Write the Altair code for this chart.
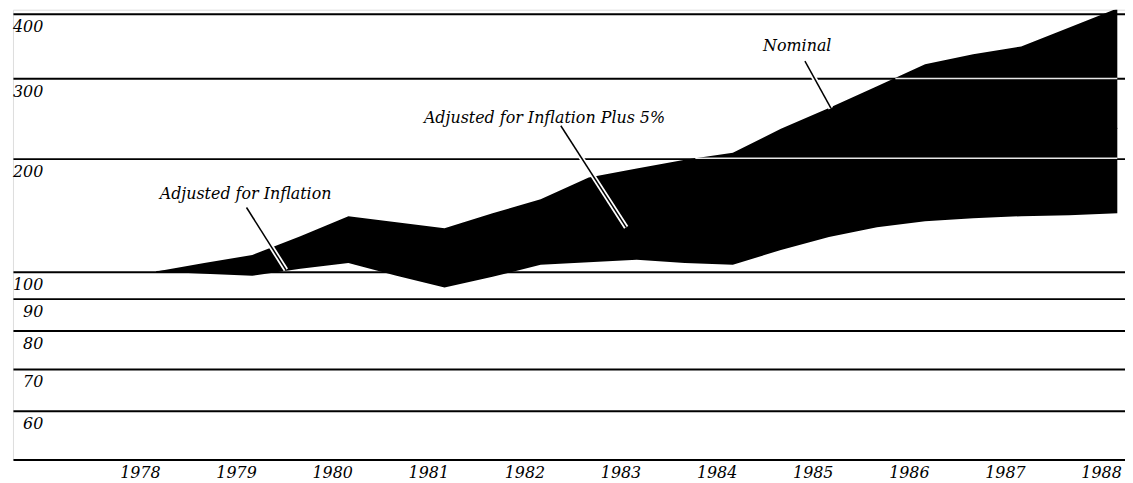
import altair as alt
import pandas as pd
import numpy as np

# ---- data (index 1978 = 100) ----
years = [1978.0, 1978.5, 1979.0, 1979.5, 1980.0, 1980.5, 1981.0, 1981.5, 1982.0, 1982.5,
         1983.0, 1983.5, 1984.0, 1984.5, 1985.0, 1985.5, 1986.0, 1986.5, 1987.0, 1987.5, 1988.0]
nominal = [100.0, 105.4, 110.7, 124.2, 140.3, 135.3, 130.4, 142.9, 155.6, 177.9,
           187.8, 198.4, 205.8, 232.3, 258.2, 288.5, 319.6, 334.1, 346.1, 376.5, 410.0]
adjusted = [100.0, 99.1, 98.4, 101.7, 105.4, 98.4, 94.0, 98.0, 104.2, 105.8,
            107.4, 105.4, 104.2, 114.1, 123.5, 131.2, 136.1, 138.6, 140.3, 141.1, 142.9]
adjusted_plus5 = [100.0, 101.6, 103.3, 109.4, 116.2, 111.2, 108.8, 116.2, 126.7, 131.8,
                  137.1, 137.8, 139.6, 156.7, 173.8, 189.2, 201.1, 209.8, 217.6, 224.3, 232.8]

grid_values = [60, 70, 80, 90, 100, 200, 300, 400]
year_ticks = [1978, 1979, 1980, 1981, 1982, 1983, 1984, 1985, 1986, 1987, 1988]

label_texts = ["Adjusted for Inflation", "Adjusted for Inflation Plus 5%", "Nominal"]
label_years = [1978.93, 1982.04, 1984.67]
label_values = [161.0, 245.0, 346.0]
leader_start_years = [1978.94, 1982.21, 1984.75]
leader_start_values = [148.0, 236.0, 324.0]
leader_end_years = [1979.35, 1982.89, 1985.02]
leader_end_values = [101.0, 131.0, 258.0]

# ---- tables ----
df = pd.DataFrame({"year": years, "nominal": nominal, "adjusted": adjusted,
                   "plus5": adjusted_plus5})

labels_df = pd.DataFrame({"text": label_texts, "year": label_years, "value": label_values})

leader_rows = []
for i in range(len(label_texts)):
    leader_rows.append({"id": i, "o": 0, "year": leader_start_years[i], "value": leader_start_values[i]})
    leader_rows.append({"id": i, "o": 1, "year": leader_end_years[i], "value": leader_end_values[i]})
leaders_df = pd.DataFrame(leader_rows)

# white gridline pieces where the gridline runs inside the black band
def last_up_crossing(level):
    ly = np.log(nominal)
    lv = np.log(level)
    cross = None
    for i in range(len(years) - 1):
        if ly[i] < lv <= ly[i + 1]:
            t = (lv - ly[i]) / (ly[i + 1] - ly[i])
            cross = years[i] + t * (years[i + 1] - years[i])
    return cross

white_rows = []
for g in [200, 300]:
    c = last_up_crossing(g)
    if c is not None:
        white_rows.append({"value": g, "start": c, "end": years[-1]})
white_df = pd.DataFrame(white_rows)

# ---- scales ----
FONT = "DejaVu Serif"
x_scale = alt.Scale(domain=[1976.51, 1988.08], nice=False, zero=False)
y_scale = alt.Scale(type="log",
                    domain=[50.3, 60, 70, 80, 90, 100, 200, 300, 400, 407.7],
                    range=[452.7, 404.3, 362, 323, 291.3, 263.7, 149.7, 69.3, 4.3, 0],
                    nice=False, zero=False)

x_axis = alt.Axis(values=year_ticks, format="d", grid=False, ticks=False, domain=True,
                  domainColor="black", domainWidth=2, labelAlign="right",
                  labelBaseline="top", labelPadding=5, labelOffset=4, labelFlush=False,
                  labelOverlap=False, labelFont=FONT, labelFontStyle="italic",
                  labelFontSize=16, labelColor="black", title=None)
y_axis = alt.Axis(values=grid_values, format="d", grid=True, gridColor="black",
                  gridWidth=2, gridOpacity=1, domain=False, ticks=False,
                  labelAlign="right", labelBaseline="top", labelPadding=-30,
                  labelOffset=5, labelOverlap=False, labelFont=FONT,
                  labelFontStyle="italic", labelFontSize=16, labelColor="black",
                  title=None)

band = alt.Chart(df).mark_area(color="black", clip=True, opacity=1).encode(
    x=alt.X("year:Q", scale=x_scale, axis=x_axis),
    y=alt.Y("nominal:Q", scale=y_scale, axis=y_axis),
    y2="adjusted:Q",
)

middle = alt.Chart(df).mark_line(color="black", strokeWidth=1, clip=True).encode(
    x="year:Q", y="plus5:Q"
)

white_grid = alt.Chart(white_df).mark_rule(color="white", strokeWidth=1.5, opacity=0.9).encode(
    x="start:Q", x2="end:Q", y="value:Q"
)

leader_halo = alt.Chart(leaders_df).mark_line(color="white", strokeWidth=5).encode(
    x="year:Q", y="value:Q", detail="id:N", order="o:Q"
)
leader_line = alt.Chart(leaders_df).mark_line(color="black", strokeWidth=1.5).encode(
    x="year:Q", y="value:Q", detail="id:N", order="o:Q"
)

texts = alt.Chart(labels_df).mark_text(font=FONT, fontStyle="italic", fontSize=16,
                                        color="black", align="center",
                                        baseline="middle").encode(
    x="year:Q", y="value:Q", text="text:N"
)

chart = alt.layer(band, middle, white_grid, leader_halo, leader_line, texts).properties(
    width=1120, height=453,
    autosize="none",
    padding={"left": 5, "top": 0, "right": 0, "bottom": 23},
).configure_view(stroke=None).configure(background="white")

chart.save("out.html", embed_options={"renderer": "svg", "actions": False})
